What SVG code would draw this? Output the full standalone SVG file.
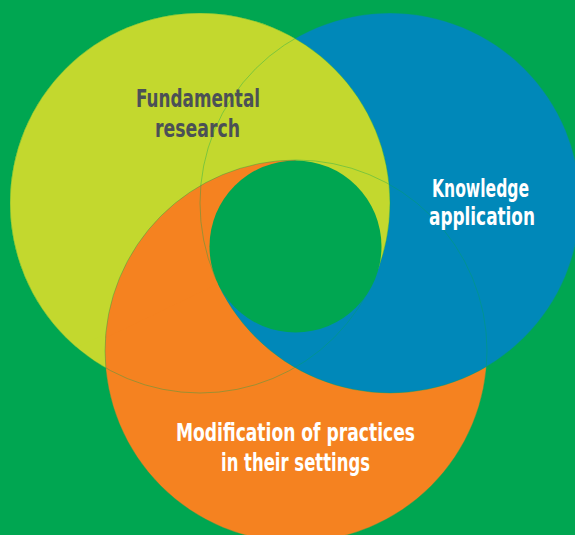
<svg xmlns="http://www.w3.org/2000/svg" width="575" height="535" viewBox="0 0 575 535">
  <defs>
    <style>
      .bg{fill:#00a651}
      .lime{fill:#c3d82e}
      .blue{fill:#0088b9}
      .orange{fill:#f58220}
      .edge{fill:none;stroke:#00a651;stroke-width:0.8;stroke-opacity:0.45}
      .lbl{font-family:"Liberation Sans Narrow","DejaVu Sans Condensed","Liberation Sans",sans-serif;font-weight:bold;font-size:25px;text-anchor:middle}
      .dark{fill:#4b5056}
      .light{fill:#ffffff}
    </style>
    <!-- the three large rings, each internally tangent to the central hole -->
    <circle id="c-lime" cx="200" cy="203" r="190"/>
    <circle id="c-blue" cx="390" cy="203" r="190"/>
    <circle id="c-orange" cx="296" cy="351" r="191"/>
    <!-- wedges around the hole centre (295.5,246.5); their straight edges start at the
         tangent points, so they only cut a ring inside the hole or where colours agree -->
    <clipPath id="lime-over"><polygon points="295.5,246.5 -431.3,580.8 -382.9,-177.4 295.5,-553.5 966.5,-189.2 1023.5,578.1"/></clipPath>
    <clipPath id="orange-over"><polygon points="295.5,246.5 -425.5,593.4 -382.9,-177.4 295.5,-553.5"/></clipPath>
  </defs>

  <rect class="bg" x="0" y="0" width="575" height="535"/>

  <!-- interlocked rings: each one passes over the next and under the previous -->
  <g id="rings">
    <use href="#c-lime" class="lime"/>
    <use href="#c-orange" class="orange"/>
    <use href="#c-blue" class="blue"/>
    <use href="#c-lime" class="lime" clip-path="url(#lime-over)"/>
    <use href="#c-orange" class="orange" clip-path="url(#orange-over)"/>
    <!-- faint seams where the lower rings run under the upper ones -->
    <use href="#c-lime" class="edge"/>
    <use href="#c-blue" class="edge"/>
    <use href="#c-orange" class="edge"/>
    <!-- central hole -->
    <circle id="hole" class="bg" cx="295.5" cy="246.5" r="86"/>
  </g>

  <g id="fundamental-research">
    <text class="lbl dark" x="198" y="107" textLength="124" lengthAdjust="spacingAndGlyphs">Fundamental</text>
    <text class="lbl dark" x="197.5" y="137" textLength="85" lengthAdjust="spacingAndGlyphs">research</text>
  </g>
  <g id="knowledge-application">
    <text class="lbl light" x="480.5" y="197" textLength="97" lengthAdjust="spacingAndGlyphs">Knowledge</text>
    <text class="lbl light" x="482" y="225" textLength="106" lengthAdjust="spacingAndGlyphs">application</text>
  </g>
  <g id="modification-of-practices">
    <text class="lbl light" x="295.5" y="441" textLength="239" lengthAdjust="spacingAndGlyphs">Modification of practices</text>
    <text class="lbl light" x="295.5" y="471" textLength="149" lengthAdjust="spacingAndGlyphs">in their settings</text>
  </g>
</svg>
